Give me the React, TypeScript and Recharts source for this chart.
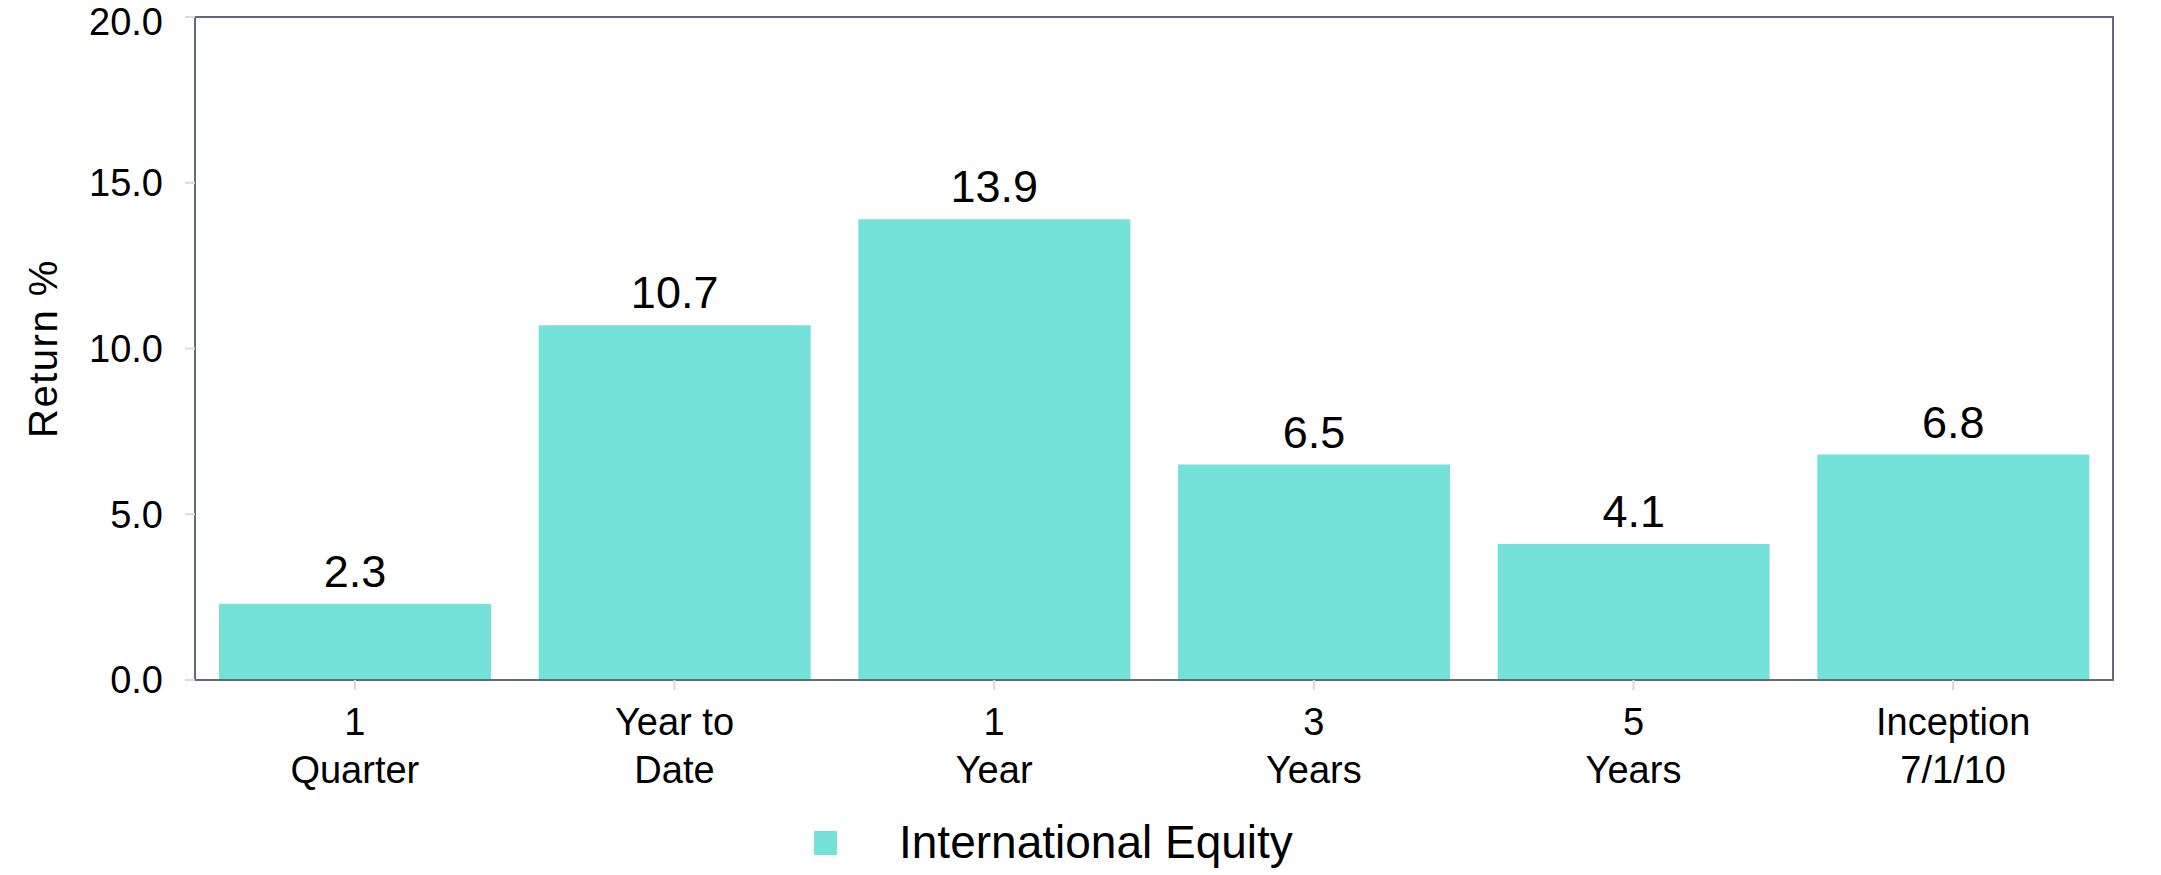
import { BarChart, Bar, XAxis, YAxis, LabelList, Legend, ReferenceArea } from 'recharts';

// periods shown along the x axis (two lines each)
const periodLine1 = ['1', 'Year to', '1', '3', '5', 'Inception'];
const periodLine2 = ['Quarter', 'Date', 'Year', 'Years', 'Years', '7/1/10'];
const intlEquityReturns = [2.3, 10.7, 13.9, 6.5, 4.1, 6.8];
const yTicks = [0, 5, 10, 15, 20];

const SERIES_NAME = 'International Equity';
const BAR_COLOR = '#74E2D9';
const AXIS_COLOR = '#5F6B78';
const TICK_COLOR = '#D9D9D9';
const FONT = '"Liberation Sans", Arial, sans-serif';

const data = periodLine1.map((l1, i) => ({
  period: `${l1} ${periodLine2[i]}`,
  value: intlEquityReturns[i],
}));

function PeriodTick(props: any) {
  const { x, y, index } = props;
  return (
    <text x={x} y={y + 43} textAnchor="middle" fontSize={38} fontFamily={FONT} fill="#000">
      <tspan x={x} dy={0}>{periodLine1[index]}</tspan>
      <tspan x={x} dy={48}>{periodLine2[index]}</tspan>
    </text>
  );
}

function YTitle(props: any) {
  const { viewBox } = props;
  const cx = 43;
  const cy = viewBox.y + viewBox.height / 2;
  return (
    <text
      x={cx}
      y={cy}
      transform={`rotate(-90, ${cx}, ${cy})`}
      textAnchor="middle"
      dominantBaseline="central"
      fontSize={40}
      letterSpacing={1.5}
      fontFamily={FONT}
      fill="#000"
    >
      Return %
    </text>
  );
}

function LegendBox() {
  return (
    <div style={{ position: 'relative', width: 2161, height: 76, fontFamily: FONT }}>
      <div style={{ position: 'absolute', left: 814, top: 32, width: 23, height: 24, background: BAR_COLOR }} />
      <div style={{ position: 'absolute', left: 899, top: 16, fontSize: 46, lineHeight: '54px', color: '#000', whiteSpace: 'nowrap' }}>
        {SERIES_NAME}
      </div>
    </div>
  );
}

export default function App() {
  return (
    <div style={{ position: 'absolute', left: 0, top: 0, background: '#fff' }}>
      <BarChart
        width={2161}
        height={875}
        data={data}
        margin={{ top: 17, right: 48, left: 0, bottom: 0 }}
        barCategoryGap={24}
      >
        {/* plot frame */}
        <ReferenceArea y1={0} y2={20} fill="none" stroke={AXIS_COLOR} strokeWidth={2} ifOverflow="visible" />
        <XAxis
          dataKey="period"
          height={119}
          axisLine={{ stroke: AXIS_COLOR, strokeWidth: 2 }}
          tickLine={{ stroke: TICK_COLOR, strokeWidth: 2 }}
          tickSize={10}
          tick={<PeriodTick />}
          interval={0}
        />
        <YAxis
          width={195}
          domain={[0, 20]}
          ticks={yTicks}
          tickFormatter={(v: number) => v.toFixed(1)}
          axisLine={{ stroke: AXIS_COLOR, strokeWidth: 2 }}
          tickLine={{ stroke: TICK_COLOR, strokeWidth: 2 }}
          tickSize={10}
          tickMargin={22}
          tick={{ fontSize: 38, fill: '#000', fontFamily: FONT }}
          label={<YTitle />}
        />
        <Legend
          verticalAlign="bottom"
          height={76}
          wrapperStyle={{ left: 0, bottom: 0, width: 2161 }}
          content={<LegendBox />}
        />
        <Bar dataKey="value" name={SERIES_NAME} fill={BAR_COLOR} isAnimationActive={false}>
          <LabelList
            dataKey="value"
            position="top"
            offset={17}
            formatter={(v: any) => Number(v).toFixed(1)}
            style={{ fontSize: 45, fill: '#000', fontFamily: FONT }}
          />
        </Bar>
      </BarChart>
    </div>
  );
}
